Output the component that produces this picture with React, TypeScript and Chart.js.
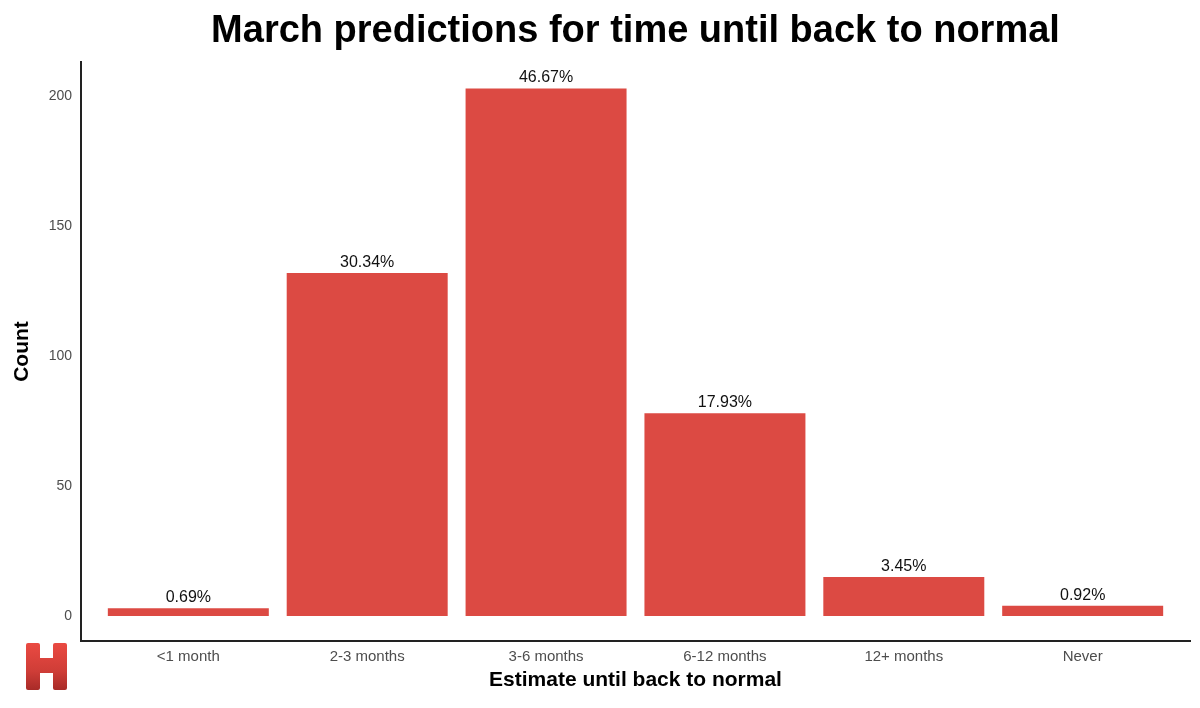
import React, { useEffect, useRef } from "react";
import { Chart, registerables } from "chart.js";

Chart.register(...registerables);

const categories = ["<1 month", "2-3 months", "3-6 months", "6-12 months", "12+ months", "Never"];
const counts = [3, 132, 203, 78, 15, 4];
const yTicks = [0, 50, 100, 150, 200];

const TITLE = "March predictions for time until back to normal";
const X_TITLE = "Estimate until back to normal";
const Y_TITLE = "Count";
const FONT = "'Liberation Sans', Arial, Helvetica, sans-serif";
const BAR_COLOR = "#dc4a43";

const total = counts.reduce((a, b) => a + b, 0);
const pctLabels = counts.map((c) => ((c / total) * 100).toFixed(2) + "%");

const overlay = {
  id: "overlay",
  afterDraw(chart: any) {
    const ctx = chart.ctx as CanvasRenderingContext2D;
    const area = chart.chartArea;
    ctx.save();
    // title
    ctx.fillStyle = "#000";
    ctx.font = `bold 38px ${FONT}`;
    ctx.textAlign = "center";
    ctx.textBaseline = "alphabetic";
    ctx.fillText(TITLE, (area.left + area.right) / 2, 42);
    // x axis title
    ctx.font = `bold 21px ${FONT}`;
    ctx.fillText(X_TITLE, (area.left + area.right) / 2, 686);
    // y axis title
    ctx.save();
    ctx.translate(28, (area.top + area.bottom) / 2);
    ctx.rotate(-Math.PI / 2);
    ctx.fillText(Y_TITLE, 0, 0);
    ctx.restore();
    // data labels
    const meta = chart.getDatasetMeta(0);
    ctx.font = `16px ${FONT}`;
    ctx.fillStyle = "#111";
    meta.data.forEach((bar: any, i: number) => {
      ctx.fillText(pctLabels[i], bar.x, bar.y - 6);
    });
    // logo "H"
    const lx = 26, ly = 643, w = 41, h = 47;
    const grad = ctx.createLinearGradient(0, ly, 0, ly + h);
    grad.addColorStop(0, "#ea4a42");
    grad.addColorStop(0.6, "#cf3d37");
    grad.addColorStop(1, "#a82b28");
    ctx.fillStyle = grad;
    const r = 2;
    const rr = (x: number, y: number, ww: number, hh: number) => {
      ctx.beginPath();
      ctx.moveTo(x + r, y);
      ctx.lineTo(x + ww - r, y);
      ctx.quadraticCurveTo(x + ww, y, x + ww, y + r);
      ctx.lineTo(x + ww, y + hh - r);
      ctx.quadraticCurveTo(x + ww, y + hh, x + ww - r, y + hh);
      ctx.lineTo(x + r, y + hh);
      ctx.quadraticCurveTo(x, y + hh, x, y + hh - r);
      ctx.lineTo(x, y + r);
      ctx.quadraticCurveTo(x, y, x + r, y);
      ctx.closePath();
      ctx.fill();
    };
    rr(lx, ly, 14, h);
    rr(lx + w - 14, ly, 14, h);
    ctx.fillRect(lx + 12, ly + 15, w - 24, 15);
    ctx.restore();
  },
};

export default function App() {
  const ref = useRef<HTMLCanvasElement | null>(null);
  useEffect(() => {
    document.body.style.margin = "0";
    const canvas = ref.current!;
    const chart = new Chart(canvas, {
      type: "bar",
      data: {
        datasets: [
          {
            data: counts.map((c, i) => ({ x: i + 1, y: c })),
            backgroundColor: BAR_COLOR,
            borderWidth: 0,
            barPercentage: 0.9,
            categoryPercentage: 1,
          },
        ],
      },
      options: {
        animation: false,
        responsive: false,
        devicePixelRatio: 1,
        layout: { padding: { top: 62, left: 0, right: 10, bottom: 0 } },
        plugins: {
          legend: { display: false },
          tooltip: { enabled: false },
          title: { display: false },
        },
        scales: {
          x: {
            type: "linear",
            offset: false,
            min: 0.4,
            max: 6.6,
            afterBuildTicks: (scale: any) => {
              scale.ticks = categories.map((_, i) => ({ value: i + 1 }));
            },
            afterFit: (scale: any) => {
              scale.height = 67;
            },
            grid: { display: false, drawTicks: false, offset: false },
            border: { display: true, color: "#222", width: 2 },
            ticks: {
              autoSkip: false,
              maxRotation: 0,
              padding: 7,
              color: "#4d4d4d",
              font: { family: FONT, size: 15 },
              callback: (v: any) => categories[Math.round(Number(v)) - 1] ?? "",
            },
          },
          y: {
            type: "linear",
            min: -9.6,
            max: 213.15,
            afterBuildTicks: (scale: any) => {
              scale.ticks = yTicks.map((v) => ({ value: v }));
            },
            afterFit: (scale: any) => {
              scale.width = 81;
            },
            grid: { display: false, drawTicks: false },
            border: { display: true, color: "#222", width: 2 },
            ticks: {
              padding: 9,
              color: "#4d4d4d",
              font: { family: FONT, size: 14 },
              callback: (v: any) => String(v),
            },
          },
        },
      },
      plugins: [overlay],
    });
    return () => chart.destroy();
  }, []);
  return (
    <div style={{ width: 1200, height: 708, background: "#fff" }}>
      <canvas ref={ref} width={1200} height={708} style={{ display: "block" }} />
    </div>
  );
}
